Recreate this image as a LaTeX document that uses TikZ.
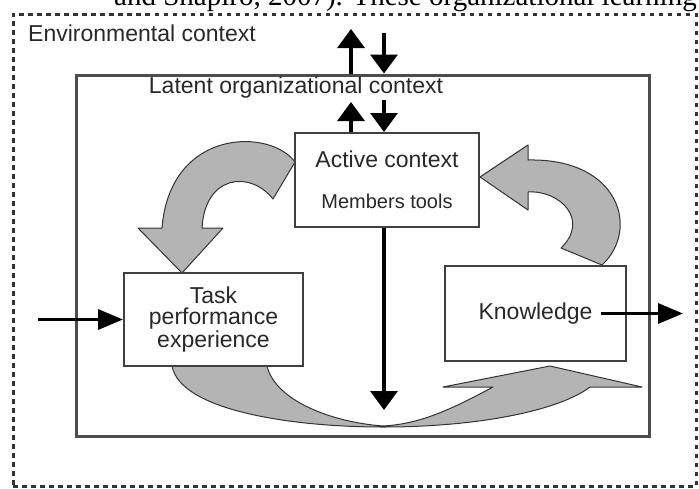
\documentclass[tikz,border=0pt]{standalone}
\usepackage{fontspec}
\setmainfont{Liberation Sans}
\newfontfamily\capfont{Liberation Serif}
\usetikzlibrary{arrows.meta}
\definecolor{cgray}{RGB}{180,180,180}
\definecolor{cink}{RGB}{40,40,40}

\begin{document}
\begin{tikzpicture}[x=1pt, y=-1pt,
      box/.style={draw=black!75, line width=2pt, fill=white, text=cink, align=center, inner sep=0pt,
                  font=\fontsize{23}{27}\selectfont},
      lbl/.style={text=cink, font=\fontsize{23}{27}\selectfont, inner sep=0pt},
      bigarrow/.style={fill=cgray, draw=black!80, line width=1pt, line join=round},
      arrow/.style={-{Triangle[width=27pt,length=19pt]}, line width=3.5pt},
      flow/.style={-{Triangle[width=20pt,length=25pt]}, line width=3.5pt}
    ]
    \useasboundingbox (0,0) rectangle (699,488);
    \begin{scope}
      \clip (0,0) rectangle (699,488);
      \node[font=\capfont\fontsize{29}{33}\selectfont, anchor=base west, inner sep=0pt] (caption) at (114,5)
        {and Shapiro, 2007). These organizational learning};
    \end{scope}
    \node[draw=black!80, line width=3pt, dash pattern=on 4.5pt off 4.5pt, minimum width=683pt, minimum height=472pt] (env) at (354.5,250) {};
    \node[draw=black!70, line width=3pt, minimum width=573pt, minimum height=361pt] (latent) at (362.5,255.5) {};
    \node[lbl, anchor=west] (envlabel) at (28,33) {Environmental context};
    \node[lbl] (latentlabel) at (296,88) {Latent organizational context};

    \draw[bigarrow] (295,162) .. controls (270,128) and (170,128) .. (162,228) -- (138,228) -- (182,273)
      -- (223,228) -- (202,228) .. controls (205,175) and (250,170) .. (273,199) -- cycle;
    \draw[bigarrow] (602,265) .. controls (640,230) and (620,158) .. (528,160) -- (528,145) -- (480,177)
      -- (528,210) -- (528,192) .. controls (560,190) and (590,220) .. (561,248) -- cycle;
    \draw[bigarrow] (172,366) .. controls (180,410) and (290,427) .. (383,427) .. controls (480,427) and (560,410) .. (590,387)
      -- (642,387) -- (550,366) -- (443,387) -- (493,387) .. controls (450,410) and (420,424) .. (383,426)
      .. controls (330,422) and (275,400) .. (267,366) -- cycle;

    \node[box, minimum width=184pt, minimum height=94pt] (active) at (387,180)
      {Active context\\[14pt]{\fontsize{20}{24}\selectfont Members tools}};
    \node[box, minimum width=179pt, minimum height=93pt, font=\fontsize{23}{21}\selectfont] (task) at (213.5,319.5)
      {Task\\performance\\experience};
    \node[box, minimum width=181pt, minimum height=95pt] (knowledge) at (535.5,313.5) {Knowledge};

    \coordinate (envup) at (351,29);
    \coordinate (envdn) at (384,33);
    \coordinate (actup) at (351,102);
    \coordinate (actdn) at (384,100);
    \coordinate (mid) at (384,410);
    \coordinate (inflow) at (38,319.5);
    \coordinate (outflow) at (683,313.5);
    \draw[arrow] (latent.north -| envup) -- (envup);
    \draw[arrow] (envdn) -- (latent.north -| envdn);
    \draw[arrow] (active.north -| actup) -- (actup);
    \draw[arrow] (actdn) -- (active.north -| actdn);
    \draw[arrow] (active.south -| mid) -- (mid);
    \draw[flow] (inflow) -- (task.west);
    \draw[flow] ([xshift=-26pt]knowledge.east) -- (outflow);
  \end{tikzpicture}
\end{document}
